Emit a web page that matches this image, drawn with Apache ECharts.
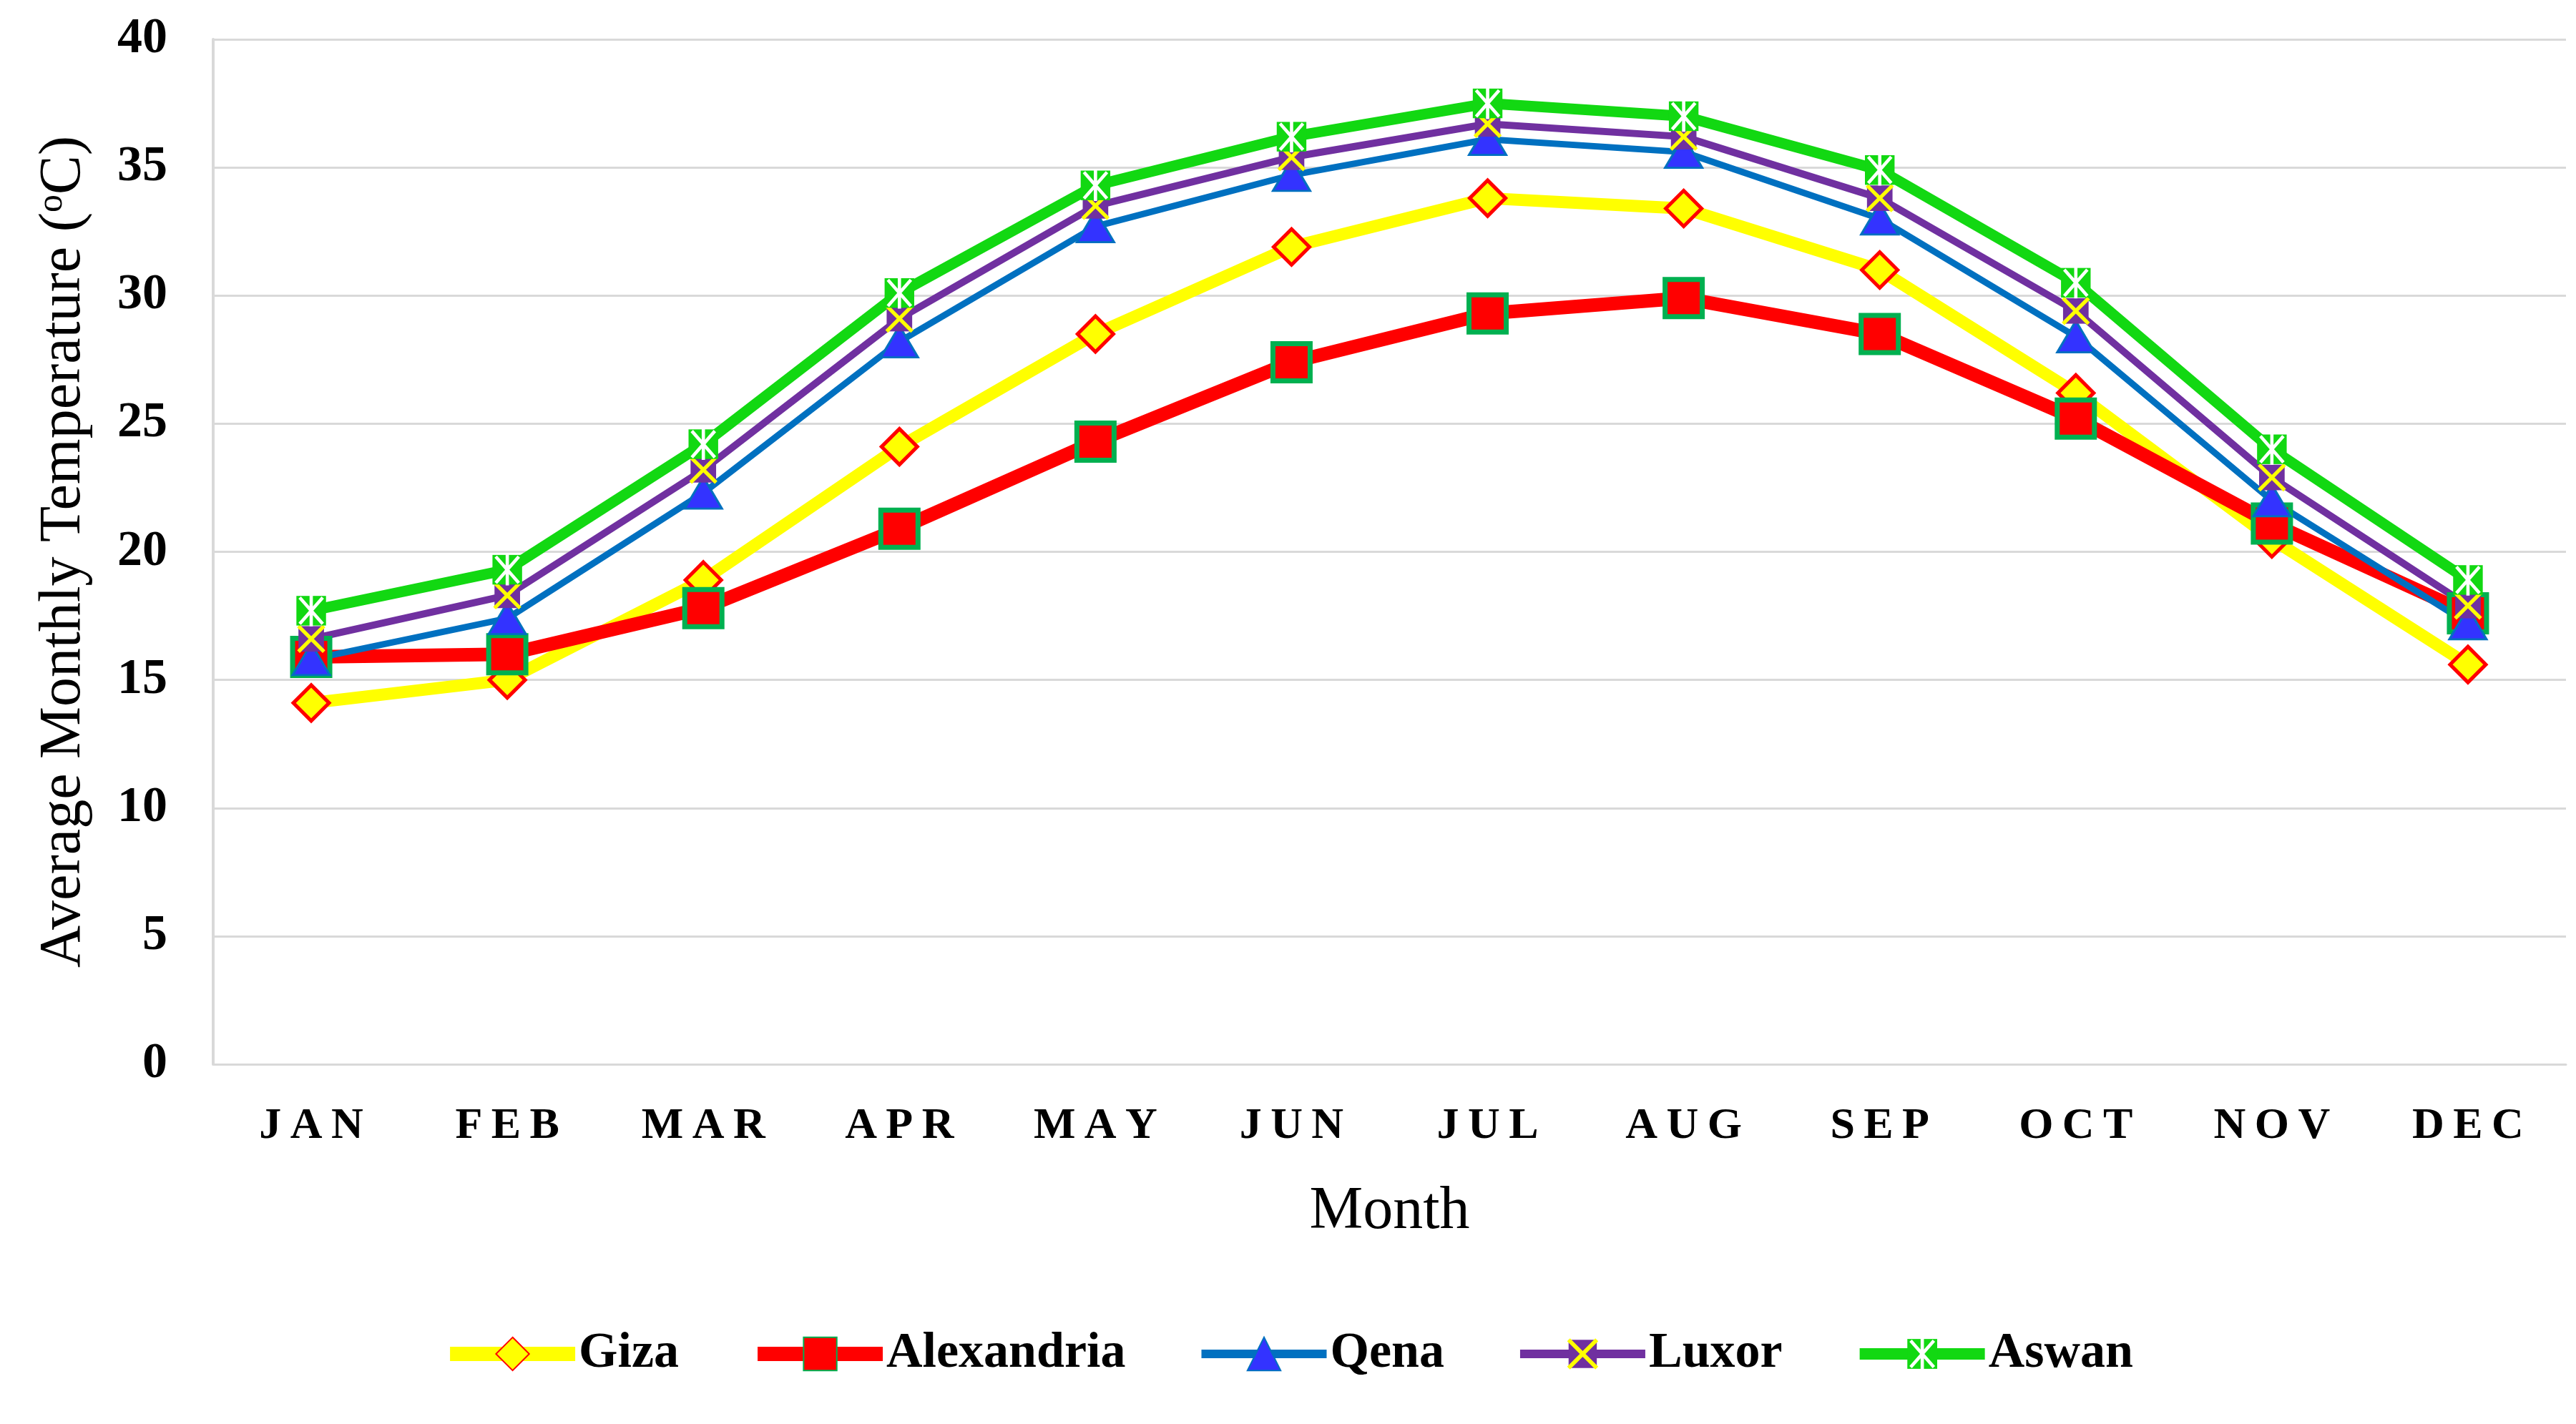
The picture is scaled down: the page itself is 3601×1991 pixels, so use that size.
<!DOCTYPE html>
<html>
<head>
<meta charset="utf-8">
<script src="https://cdn.jsdelivr.net/npm/echarts@6/dist/echarts.min.js"></script>
<style>
  html, body { margin: 0; padding: 0; background: #fff; }
  #main { width: 3601px; height: 1991px; }
</style>
</head>
<body>
<div id="main"></div>
<script>
const months = ["JAN", "FEB", "MAR", "APR", "MAY", "JUN", "JUL", "AUG", "SEP", "OCT", "NOV", "DEC"];
const giza = [14.1, 15.0, 18.9, 24.1, 28.5, 31.9, 33.8, 33.4, 31.0, 26.2, 20.5, 15.6];
const alexandria = [15.9, 16.0, 17.8, 20.9, 24.3, 27.4, 29.3, 29.9, 28.5, 25.2, 21.1, 17.6];
const qena = [15.8, 17.4, 22.3, 28.2, 32.7, 34.7, 36.1, 35.6, 33.0, 28.4, 22.0, 17.2];
const luxor = [16.6, 18.3, 23.2, 29.1, 33.5, 35.4, 36.7, 36.2, 33.8, 29.4, 22.9, 17.9];
const aswan = [17.7, 19.3, 24.2, 30.1, 34.3, 36.2, 37.5, 37.0, 34.9, 30.5, 24.0, 18.9];
const yTicks = { min: 0, max: 40, step: 5 };

const serif = "'Liberation Serif', 'DejaVu Serif', serif";

// two-colour markers as small inline svg images
function svgSymbol(svg) {
  return "image://data:image/svg+xml;utf8," + encodeURIComponent(svg);
}
const luxorMark = svgSymbol(
  "<svg xmlns='http://www.w3.org/2000/svg' width='40' height='40' viewBox='0 0 40 40'>" +
  "<rect x='3' y='3' width='34' height='34' fill='#7030A0'/>" +
  "<path d='M3 3L37 37M37 3L3 37' stroke='#FFFF00' stroke-width='5'/></svg>"
);
const aswanMark = svgSymbol(
  "<svg xmlns='http://www.w3.org/2000/svg' width='40' height='40' viewBox='0 0 40 40'>" +
  "<rect x='2' y='2' width='36' height='36' fill='#12D812'/>" +
  "<path d='M6 4L34 36M34 4L6 36M20 1V39' stroke='#FFFFFF' stroke-width='4'/></svg>"
);

let myChart = echarts.init(document.getElementById("main"));

let options = {
  backgroundColor: "#fff",
  animation: false,
  grid: { left: 298, right: 14, top: 55, bottom: 503 },
  legend: {
    bottom: 58,
    left: "center",
    itemWidth: 175,
    itemHeight: 58,
    itemGap: 100,
    textStyle: { fontFamily: serif, fontWeight: "bold", fontSize: 70, color: "#000" },
    data: [
      { name: "Giza", lineStyle: { width: 20 } },
      { name: "Alexandria", lineStyle: { width: 20 } },
      { name: "Qena", lineStyle: { width: 12 } },
      { name: "Luxor", lineStyle: { width: 12 } },
      { name: "Aswan", lineStyle: { width: 16 } },
    ],
  },
  xAxis: {
    type: "category",
    data: months,
    boundaryGap: true,
    name: "Month",
    nameLocation: "middle",
    nameGap: 165,
    nameTextStyle: { fontFamily: serif, fontSize: 84, color: "#000" },
    axisLine: { lineStyle: { color: "#D9D9D9", width: 3 } },
    axisTick: { show: false },
    axisLabel: {
      margin: 56,
      fontFamily: serif,
      fontWeight: "bold",
      fontSize: 62,
      color: "#000",
      formatter: (v) => v.split("").join("\u2009"),
    },
  },
  yAxis: {
    type: "value",
    min: yTicks.min,
    max: yTicks.max,
    interval: yTicks.step,
    name: "Average Monthly Temperature ({sup|o}C)",
    nameLocation: "middle",
    nameGap: 168,
    nameTextStyle: {
      fontFamily: serif,
      fontSize: 82,
      color: "#000",
      rich: { sup: { fontFamily: serif, fontSize: 50, color: "#000", verticalAlign: "top", padding: [0, 0, 28, 0] } },
    },
    axisLine: { show: true, lineStyle: { color: "#D9D9D9", width: 4 } },
    axisTick: { show: false },
    splitLine: { lineStyle: { color: "#D9D9D9", width: 3 } },
    axisLabel: { margin: 64, fontFamily: serif, fontWeight: "bold", fontSize: 70, color: "#000" },
  },
  series: [
    {
      name: "Giza",
      type: "line",
      data: giza,
      symbol: "diamond",
      symbolSize: 50,
      lineStyle: { color: "#FFFF00", width: 17 },
      itemStyle: { color: "#FFFF00", borderColor: "#FF0000", borderWidth: 5 },
    },
    {
      name: "Alexandria",
      type: "line",
      data: alexandria,
      symbol: "rect",
      symbolSize: 52,
      lineStyle: { color: "#FF0000", width: 19 },
      itemStyle: { color: "#FF0000", borderColor: "#00B050", borderWidth: 7 },
    },
    {
      name: "Qena",
      type: "line",
      data: qena,
      symbol: "triangle",
      symbolSize: [52, 44],
      lineStyle: { color: "#0070C0", width: 9 },
      itemStyle: { color: "#3333FF", borderColor: "#0070C0", borderWidth: 3 },
    },
    {
      name: "Luxor",
      type: "line",
      data: luxor,
      symbol: luxorMark,
      symbolSize: 42,
      lineStyle: { color: "#7030A0", width: 10 },
      itemStyle: { color: "#7030A0" },
    },
    {
      name: "Aswan",
      type: "line",
      data: aswan,
      symbol: aswanMark,
      symbolSize: 46,
      lineStyle: { color: "#12D812", width: 15 },
      itemStyle: { color: "#12D812" },
    },
  ],
};

myChart.setOption(options);
</script>
</body>
</html>
